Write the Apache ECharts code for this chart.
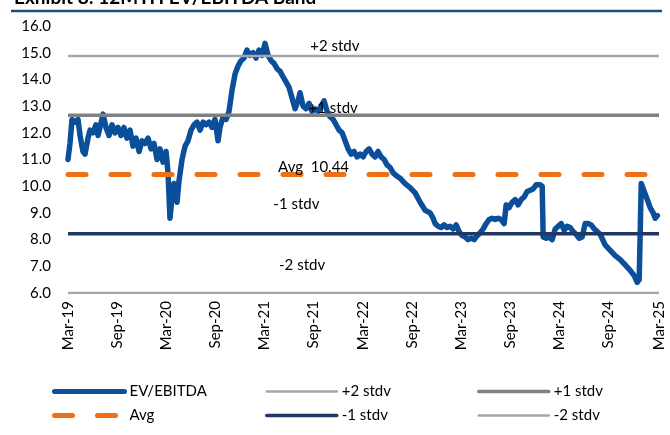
<!DOCTYPE html>
<html>
<head>
<meta charset="utf-8">
<script src="https://cdn.jsdelivr.net/npm/echarts@6/dist/echarts.min.js"></script>
<style>
  html, body { margin: 0; padding: 0; background: #fff; }
  #main { width: 670px; height: 435px; }
</style>
</head>
<body>
<div id="main"></div>
<script>
// EV/EBITDA band chart, Mar-19 .. Mar-25 (x in months since Mar-19)
var tickLabels = ['Mar-19','Sep-19','Mar-20','Sep-20','Mar-21','Sep-21','Mar-22','Sep-22','Mar-23','Sep-23','Mar-24','Sep-24','Mar-25'];

var months = [0,0.24,0.49,0.86,1.22,1.47,1.83,2.08,2.44,2.69,3.06,3.42,3.67,3.91,4.28,4.64,5.01,5.38,5.74,6.11,
  6.48,6.84,7.21,7.58,7.94,8.31,8.68,9.04,9.41,9.78,10.14,10.51,10.88,11.24,11.61,11.98,12.22,12.46,12.71,12.95,
  13.32,13.56,13.93,14.30,14.66,15.03,15.40,15.76,16.13,16.50,16.86,17.23,17.60,17.96,18.33,18.57,18.94,19.31,19.67,20.04,
  20.41,20.77,21.14,21.51,21.87,22.24,22.61,22.97,23.34,23.71,24.07,24.44,24.81,25.17,25.54,25.91,26.27,26.64,27.01,27.37,
  27.74,28.11,28.35,28.72,29.08,29.45,29.82,30.18,30.55,30.92,31.28,31.65,32.02,32.39,32.75,33.12,33.49,33.85,34.22,34.59,
  34.95,35.32,35.69,36.05,36.42,36.78,37.15,37.52,37.88,38.25,38.62,38.98,39.35,39.72,40.08,40.57,41.18,41.79,42.41,43.02,
  43.63,44.24,44.61,44.85,45.22,45.58,45.95,46.32,46.68,47.05,47.42,47.78,48.15,48.52,48.88,49.25,49.62,49.98,50.35,50.72,
  51.08,51.45,51.82,52.18,52.55,52.92,53.28,53.53,53.89,54.26,54.63,54.99,55.36,55.73,56.09,56.46,56.83,57.19,57.68,57.93,
  58.05,58.42,58.78,59.15,59.52,59.88,60.25,60.61,60.98,61.35,61.71,62.08,62.45,62.81,63.18,63.55,63.91,64.28,64.65,65.01,
  65.62,66.24,66.85,67.46,68.07,68.68,69.17,69.54,69.78,70.03,70.39,70.76,71.12,71.49,71.74,72.0];

var evEbitda = [11.0,11.6,12.5,12.4,12.5,11.9,11.3,11.2,11.8,12.1,12.0,12.3,11.9,12.2,12.7,12.2,11.9,12.3,12.0,12.2,
  11.9,12.2,11.8,12.1,11.5,11.8,11.3,11.7,11.6,11.8,11.4,11.6,11.0,11.4,10.9,11.3,10.5,8.8,9.6,10.1,
  9.4,10.2,11.0,11.5,11.7,12.1,12.3,12.4,12.1,12.4,12.3,12.4,12.2,12.5,11.7,12.2,12.6,12.5,12.8,13.6,
  14.2,14.5,14.7,14.8,15.1,14.9,15.0,14.8,15.1,14.9,15.35,14.9,14.7,14.6,14.4,14.3,14.1,13.9,13.7,13.3,
  12.9,13.2,13.5,13.0,12.9,13.1,12.8,12.9,12.8,13.0,13.2,12.8,12.6,12.5,12.3,12.1,12.0,11.7,11.4,11.2,
  11.3,11.1,11.2,11.1,11.3,11.4,11.2,11.1,11.3,11.1,11.0,10.8,10.7,10.5,10.4,10.3,10.1,9.95,9.75,9.4,
  9.1,9.0,8.8,8.6,8.5,8.45,8.55,8.45,8.5,8.4,8.55,8.3,8.15,8.1,8.0,8.05,8.0,8.15,8.25,8.4,
  8.6,8.75,8.8,8.75,8.8,8.75,8.6,9.3,9.2,9.4,9.5,9.3,9.5,9.6,9.8,9.85,9.9,10.05,10.05,10.0,
  8.1,8.05,8.1,8.0,8.4,8.5,8.6,8.35,8.5,8.45,8.3,8.2,8.05,8.1,8.6,8.6,8.55,8.4,8.3,8.2,
  7.8,7.6,7.4,7.25,7.05,6.85,6.65,6.4,6.5,10.1,9.8,9.5,9.2,9.0,8.8,8.9];

var avgValue = 10.44;
var bandNames  = ['+2 stdv', '+1 stdv', '-1 stdv', '-2 stdv'];
var bandValues = [14.88, 12.66, 8.22, 6.0];
var bandLabelAt = [32.6, 32.4, 27.9, 28.6];
var bandLabelGap = [2, 0, 22, 20];
var bandColors = ['#a6a6a6', '#808080', '#1f3864', '#a6a6a6'];
var bandWidths = [2.5, 3.5, 3.5, 2.5];

var xMin = 0, xMax = 72.2;
var FONT = 'Lato, "Open Sans", sans-serif';

var evData = [];
for (var i = 0; i < months.length; i++) {
    evData.push([months[i], evEbitda[i]]);
}

function flatLine(v, labelAt, text, gap) {
    return [
        [xMin, v],
        { value: [labelAt, v], label: { show: true, formatter: text, position: 'top', distance: gap,
            color: '#000', fontSize: 15, fontFamily: FONT } },
        [xMax, v]
    ];
}

var series = [{
    name: 'EV/EBITDA',
    type: 'line',
    data: evData,
    symbol: 'none',
    z: 2,
    lineStyle: { color: '#0b4f9a', width: 5.5, join: 'round', cap: 'round' },
    itemStyle: { color: '#0b4f9a' }
}];

for (var b = 0; b < bandNames.length; b++) {
    series.push({
        name: bandNames[b],
        type: 'line',
        data: flatLine(bandValues[b], bandLabelAt[b], bandNames[b], bandLabelGap[b]),
        symbol: 'circle',
        symbolSize: 0,
        showSymbol: true,
        z: 3,
        lineStyle: { color: bandColors[b], width: bandWidths[b] },
        itemStyle: { color: bandColors[b] },
        labelLayout: { hideOverlap: false }
    });
}

series.push({
    name: 'Avg',
    type: 'line',
    data: flatLine(avgValue, 30.0, 'Avg  ' + avgValue.toFixed(2), 0),
    symbol: 'circle',
    symbolSize: 0,
    showSymbol: true,
    z: 3,
    lineStyle: { color: '#ed7014', width: 5, type: [18, 25], cap: 'round' },
    itemStyle: { color: '#ed7014' }
});

var chart = echarts.init(document.getElementById('main'));
var legendBase = {
    orient: 'vertical',
    top: 379,
    itemWidth: 70,
    itemHeight: 14,
    itemGap: 9,
    itemStyle: { opacity: 0 },
    textStyle: { color: '#000', fontSize: 15, fontFamily: FONT },
    selectedMode: false
};

function legendItem(name, width) {
    return { name: name, lineStyle: { width: width, cap: 'round' } };
}

var option = {
    animation: false,
    backgroundColor: '#fff',
    title: {
        text: 'Exhibit 8: 12MTH EV/EBITDA Band',
        left: 9,
        top: -17,
        textStyle: { color: '#000', fontSize: 19, fontWeight: 'bold', fontFamily: FONT }
    },
    graphic: [{
        type: 'line',
        shape: { x1: 11, y1: 11, x2: 662, y2: 11 },
        style: { stroke: '#1f4e79', lineWidth: 2.5 }
    }],
    grid: { left: 68, right: 11, top: 26, bottom: 142 },
    xAxis: {
        type: 'value',
        min: xMin,
        max: xMax,
        interval: 6,
        axisLine: { show: false },
        axisTick: { show: false },
        splitLine: { show: false },
        axisLabel: {
            rotate: 90,
            margin: 8,
            color: '#000',
            fontSize: 15,
            fontFamily: FONT,
            showMaxLabel: true,
            formatter: function (v) { return tickLabels[Math.round(v / 6)] || ''; }
        }
    },
    yAxis: {
        type: 'value',
        min: 6,
        max: 16,
        interval: 1,
        axisLine: { show: false },
        axisTick: { show: false },
        splitLine: { show: false },
        axisLabel: {
            margin: 17,
            color: '#000',
            fontSize: 15,
            fontFamily: FONT,
            formatter: function (v) { return v.toFixed(1); }
        }
    },
    legend: [
        Object.assign({}, legendBase, { left: 47, data: [legendItem('EV/EBITDA', 5), legendItem('Avg', 5)] }),
        Object.assign({}, legendBase, { left: 260, data: [legendItem('+2 stdv', 2.5), legendItem('-1 stdv', 3.5)] }),
        Object.assign({}, legendBase, { left: 472, data: [legendItem('+1 stdv', 3.5), legendItem('-2 stdv', 2.5)] })
    ],
    series: series
};
chart.setOption(option);
</script>
</body>
</html>
